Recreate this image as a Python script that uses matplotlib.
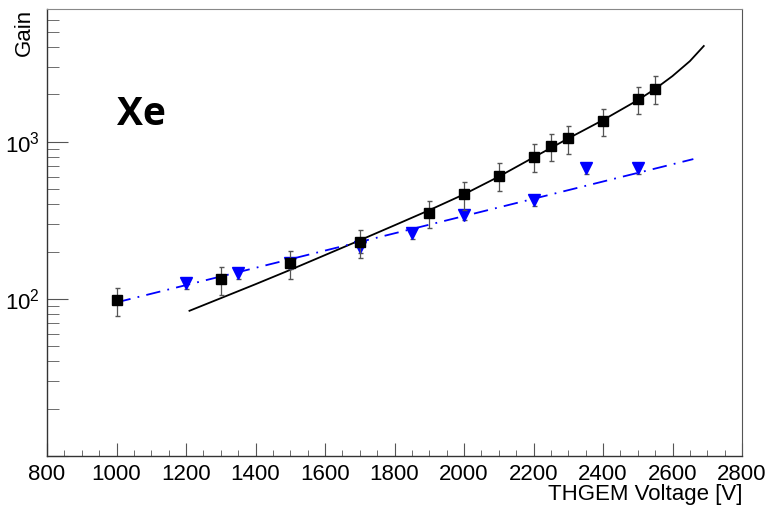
import numpy as np
import matplotlib
matplotlib.use("Agg")
import matplotlib.pyplot as plt
from matplotlib.ticker import FixedLocator, NullFormatter

plt.rcParams["font.family"] = ["Liberation Sans", "DejaVu Sans"]
plt.rcParams["mathtext.fontset"] = "custom"
plt.rcParams["mathtext.rm"] = "Liberation Sans"
plt.rcParams["mathtext.it"] = "Liberation Sans"

# -------------------------
# data
# -------------------------
volt_sq = [1000, 1300, 1500, 1700, 1900, 2000, 2100, 2200, 2250, 2300, 2400, 2500, 2550]
gain_sq = [98, 133, 168, 229, 351, 463, 608, 803, 940, 1051, 1353, 1866, 2182]
err_sq = [20, 27, 34, 46, 70, 93, 122, 160, 188, 210, 270, 373, 436]

volt_tri = [1200, 1350, 1500, 1700, 1850, 2000, 2200, 2350, 2500]
gain_tri = [126, 146, 169, 213, 262, 343, 427, 678, 678]
err_tri = [10, 12, 14, 17, 21, 27, 34, 54, 54]

# fit curves (points along the drawn curves)
fit_sq_v = [1210, 1300, 1400, 1500, 1600, 1700, 1800, 1900, 2000, 2100, 2200,
            2300, 2400, 2500, 2550, 2600, 2650, 2690]
fit_sq_g = [84, 101, 124, 153, 190, 236, 294, 367, 463, 600, 795,
            1050, 1375, 1840, 2170, 2620, 3260, 4070]

fit_tri_v = [1000, 2660]
fit_tri_g = [95, 776]

fig = plt.figure(figsize=(7.71, 5.08), dpi=100)
ax = fig.add_axes([47 / 771, 1 - 456 / 508, 695 / 771, 447 / 508])

ax.plot(fit_sq_v, fit_sq_g, color="black", lw=1.3, zorder=2)
ax.plot(fit_tri_v, fit_tri_g, color="blue", lw=1.3, ls=(0, (8, 4, 1, 4)), zorder=2)

ax.errorbar(volt_tri, gain_tri, yerr=err_tri, fmt="v", color="blue", ms=8,
            ecolor="#555555", elinewidth=0.9, capsize=1.8, zorder=3)
ax.errorbar(volt_sq, gain_sq, yerr=err_sq, fmt="s", color="black", ms=7.8,
            ecolor="#555555", elinewidth=0.9, capsize=1.8, zorder=4)

ax.set_yscale("log")
ax.set_xlim(800, 2800)
ax.set_ylim(10, 7000)

ax.xaxis.set_major_locator(FixedLocator(np.arange(800, 2801, 200)))
ax.xaxis.set_minor_locator(FixedLocator(np.arange(800, 2801, 50)))
minor_y = [m * d for d in (10, 100, 1000) for m in range(2, 10) if m * d <= 7000]
ax.yaxis.set_minor_locator(FixedLocator(minor_y))
ax.yaxis.set_minor_formatter(NullFormatter())
ax.set_yticks([10, 100, 1000])
ax.set_yticklabels(["", r"$\mathdefault{10^{2}}$", r"$\mathdefault{10^{3}}$"])

ax.tick_params(axis="both", which="both", direction="in", color="#555555",
               labelsize=16, top=False, right=False)
ax.tick_params(axis="x", which="major", length=9.4, pad=6)
ax.tick_params(axis="x", which="minor", length=4.5)
ax.tick_params(axis="y", which="major", length=15.1, pad=5)
ax.tick_params(axis="y", which="minor", length=8.4)

for side in ["left", "bottom"]:
    ax.spines[side].set_color("#333333")
    ax.spines[side].set_linewidth(1.0)
ax.spines["top"].set_color("#888888")
ax.spines["right"].set_color("#555555")

ax.text((117 - 47) / 695, 1 - (125 - 9) / 447, "Xe", transform=ax.transAxes,
        fontsize=28, fontweight="bold", family=["Open Sans", "DejaVu Sans"],
        ha="left", va="baseline")

fig.text(742 / 771, 1 - 500 / 508, "THGEM Voltage [V]", ha="right", va="baseline", fontsize=16)
fig.text(24 / 771, 1 - 9 / 508, "Gain", ha="center", va="top", rotation=90, fontsize=16)

fig.savefig("out.png", dpi=100)
